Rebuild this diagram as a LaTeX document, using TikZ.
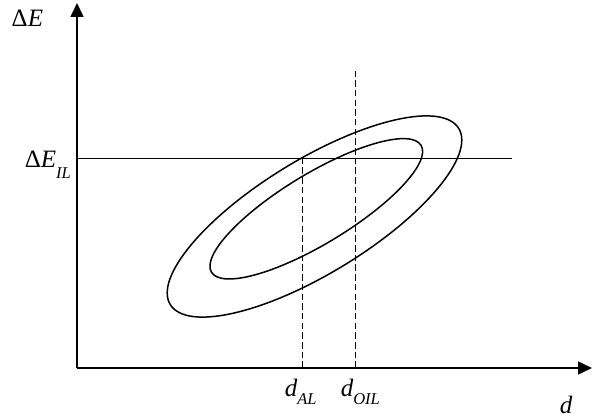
\documentclass[tikz,border=0pt]{standalone}
\usepackage{fontspec}
\setmainfont{Liberation Serif}
\usetikzlibrary{arrows.meta}
% label with a lowered italic index
\newcommand{\lbl}[3]{#1\raisebox{-#3pt}{\fontsize{16.5}{17}\selectfont\textit{#2}}}

\begin{document}
\begin{tikzpicture}[x=1pt, y=1pt, line width=1.5pt,
    axis/.style={-{Triangle[length=14pt, width=13pt]}},
    guide/.style={dash pattern=on 6.5pt off 3.2pt},
    lab/.style={inner sep=0pt, anchor=base west, font=\fontsize{25}{28}\selectfont}]
    \useasboundingbox (0,0) rectangle (592,418);

    % Corners and ends of the axes
    \coordinate (O) at (77,50);
    \coordinate (ytip) at (77,415);
    \coordinate (xtip) at (592,50);

    % Draw the axes
    \draw[axis] (O) -- (ytip);
    \draw[axis] (O) -- (xtip);

    % Horizontal limit line
    \coordinate (il) at (77,259.5);
    \coordinate (ilend) at (512,259.5);
    \draw (il) -- (ilend);

    % Draw the two tilted ellipses
    \draw[shift={(314.5,201.5)}, rotate=31.4] (0,0) ellipse (169 and 57);
    \draw[shift={(316.3,209.2)}, rotate=31.2] (0,0) ellipse (122.5 and 35);

    % Dashed lines down to the d axis
    \foreach \name/\x/\top in {al/302.5/259.5, oil/355.5/347}
        {
            \coordinate (\name) at (\x,50);
            \coordinate (\name top) at (\x,\top);
            \draw[guide] (\name) -- (\name top);
        }

    % Axis labels
    \node[lab] (dE) at (11,391) {Δ\textit{E}};
    \node[lab] (dEIL) at (24,250) {\lbl{Δ\textit{E}}{IL}{11}};
    \node[lab] (dAL) at (284,22) {\lbl{\textit{d}}{AL}{8}};
    \node[lab] (dOIL) at (340,22) {\lbl{\textit{d}}{OIL}{8}};
    \node[lab] (d) at (559,5) {\textit{d}};

\end{tikzpicture}
\end{document}
